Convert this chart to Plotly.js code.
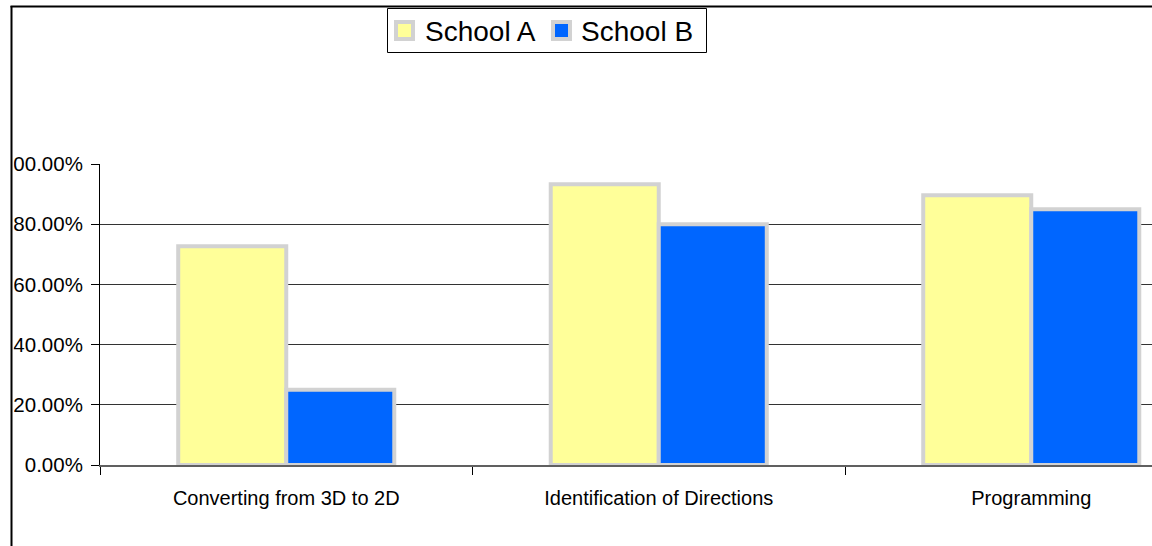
<!DOCTYPE html>
<html>
<head>
<meta charset="utf-8">
<script src="https://cdn.plot.ly/plotly-3.0.1.min.js"></script>
<style>
  html, body { margin: 0; padding: 0; background: #ffffff; }
  #chart { width: 1152px; height: 546px; }
</style>
</head>
<body>
<div id="chart"></div>
<script>
// ---- data ----
const categories = ["Converting from 3D to 2D", "Identification of Directions", "Programming"];
const seriesNames = ["School A", "School B"];
const schoolA = [0.727, 0.933, 0.896];
const schoolB = [0.25, 0.80, 0.85];
const yTickVals = [0, 0.2, 0.4, 0.6, 0.8, 1.0];
const yTickText = ["0.00%", "20.00%", "40.00%", "60.00%", "80.00%", "100.00%"];

// ---- layout constants (pixels) ----
const W = 1152, H = 546;
const M = { l: 100, r: 0, t: 164, b: 81 };
const plotW = W - M.l - M.r;
const plotH = H - M.t - M.b;
const px2x = p => (p - M.l) / plotW;          // pixel x -> paper x
const px2y = p => (H - M.b - p) / plotH;      // pixel y -> paper y
const catWidthPx = 372.5;

const seriesColors = ["#FFFF99", "#0066FF"];
const borderGray = "#D2D2D2";
const barLine = { color: borderGray, width: 4 };

const traces = [
  { type: "bar", name: seriesNames[0], x: categories, y: schoolA,
    marker: { color: seriesColors[0], line: barLine } },
  { type: "bar", name: seriesNames[1], x: categories, y: schoolB,
    marker: { color: seriesColors[1], line: barLine } }
];

const font = "Arial, 'Liberation Sans', sans-serif";

// ---- custom legend (box, swatches, labels) ----
const legendBox = { x0: 387, x1: 707, y0: 8, y1: 53 };
const swatchX = [394, 551];      // left pixel of each swatch
const labelX = [423, 579];       // left pixel of each label
const swatchSize = 21;
const legendMidY = 30.5;

const shapes = [
  // white strip clipping the chart area on the left (hides the leading "1")
  { type: "rect", xref: "paper", yref: "paper", layer: "above",
    x0: px2x(-5), x1: px2x(13.5), y0: px2y(H + 5), y1: px2y(-5),
    fillcolor: "#ffffff", line: { width: 0 } },
  // chart-area border: left and top
  { type: "line", xref: "paper", yref: "paper", layer: "above",
    x0: px2x(11.5), x1: px2x(11.5), y0: px2y(6), y1: px2y(H + 5),
    line: { color: "#000000", width: 2 } },
  { type: "line", xref: "paper", yref: "paper", layer: "above",
    x0: px2x(10.5), x1: px2x(W + 5), y0: px2y(6.5), y1: px2y(6.5),
    line: { color: "#000000", width: 2 } },
  // legend box
  { type: "rect", xref: "paper", yref: "paper", layer: "above",
    x0: px2x(legendBox.x0 + 0.5), x1: px2x(legendBox.x1 - 0.5),
    y0: px2y(legendBox.y1 - 0.5), y1: px2y(legendBox.y0 + 0.5),
    fillcolor: "#ffffff", line: { color: "#000000", width: 1 } }
];
const annotations = [];
seriesNames.forEach((name, i) => {
  shapes.push({
    type: "rect", xref: "paper", yref: "paper", layer: "above",
    x0: px2x(swatchX[i] + 2), x1: px2x(swatchX[i] + swatchSize - 2),
    y0: px2y(legendMidY + swatchSize / 2 - 2), y1: px2y(legendMidY - swatchSize / 2 + 2),
    fillcolor: seriesColors[i], line: { color: borderGray, width: 4 }
  });
  annotations.push({
    text: name, xref: "paper", yref: "paper",
    x: px2x(labelX[i]), y: px2y(legendMidY + 1),
    xanchor: "left", yanchor: "middle", showarrow: false,
    font: { family: font, size: 28, color: "#000000" }
  });
});

const layout = {
  width: W, height: H,
  margin: M,
  paper_bgcolor: "#ffffff",
  plot_bgcolor: "#ffffff",
  font: { family: font, color: "#000000", size: 20 },
  barmode: "group",
  bargap: 0.42,
  bargroupgap: 0,
  showlegend: false,
  xaxis: {
    type: "category",
    range: [-0.5, -0.5 + plotW / catWidthPx],
    showgrid: false,
    showline: true,
    linecolor: "#606060",
    linewidth: 2,
    ticks: "outside",
    tickson: "boundaries",
    ticklen: 8,
    tickcolor: "#000000",
    tickwidth: 1,
    ticklabelstandoff: 14,
    tickfont: { family: font, size: 20, color: "#000000" },
    fixedrange: true,
    zeroline: false
  },
  yaxis: {
    range: [0, 1],
    tickvals: yTickVals,
    ticktext: yTickText,
    showgrid: true,
    gridcolor: "#333333",
    gridwidth: 1,
    showline: true,
    linecolor: "#000000",
    linewidth: 1,
    ticks: "outside",
    ticklen: 8,
    tickcolor: "#000000",
    tickwidth: 1,
    ticklabelstandoff: 4,
    tickfont: { family: font, size: 20.5, color: "#000000" },
    zeroline: false,
    fixedrange: true
  },
  shapes: shapes,
  annotations: annotations
};

Plotly.newPlot("chart", traces, layout, { displayModeBar: false, staticPlot: true });
</script>
</body>
</html>
